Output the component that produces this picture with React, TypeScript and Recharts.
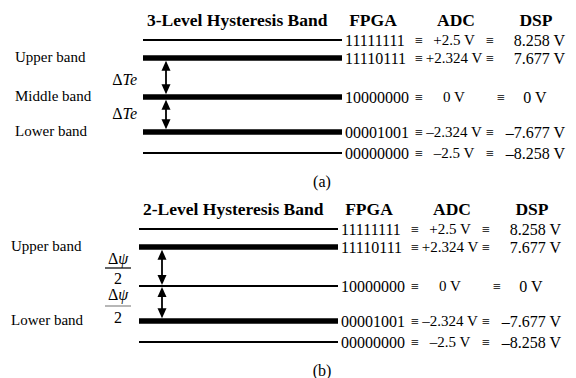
import React from 'react';
import { ComposedChart, XAxis, YAxis, ReferenceLine, Scatter } from 'recharts';

// ---------- data ----------
const levelKeys = ['max', 'upper', 'middle', 'lower', 'min'];
const fpgaCodes = ['11111111', '11110111', '10000000', '00001001', '00000000'];
const adcValues = ['+2.5 V', '+2.324 V', '0 V', '\u20132.324 V', '\u20132.5 V'];
const dspValues = ['8.258 V', '7.677 V', '0 V', '\u20137.677 V', '\u20138.258 V'];
// schematic level heights (diagram units, measured top-down)
const levelPos = [40, 58, 97, 132, 153];
const bandLabels3 = ['', 'Upper band', 'Middle band', 'Lower band', ''];
const bandLabels2 = ['', 'Upper band', '', 'Lower band', ''];
const thick3 = [false, true, true, true, false];
const thick2 = [false, true, false, true, false];
const columnHeaders = ['FPGA', 'ADC', 'DSP'];
const panelTitles = ['3-Level Hysteresis Band', '2-Level Hysteresis Band'];
const panelTags = ['(a)', '(b)'];

// ---------- layout ----------
const W = 576;
const H = 378;
const PANEL_DY = 189;
const FONT = '"Liberation Serif", "Times New Roman", Times, serif';

type TextItem = {
  x: number;
  y: number;
  content: React.ReactNode;
  anchor: 'start' | 'middle' | 'end';
  size: number;
  bold?: boolean;
  center?: boolean;
};

const TextShape = (props: any) => {
  const { cx, cy, payload } = props;
  const p = payload as TextItem;
  return (
    <text
      x={cx}
      y={cy}
      dy={p.center ? '0.35em' : 0}
      textAnchor={p.anchor}
      fontSize={p.size}
      fontWeight={p.bold ? 'bold' : 'normal'}
      fontFamily={FONT}
      fill="#000"
    >
      {p.content}
    </text>
  );
};

const makeArrow = (insetTop: number, insetBottom: number) => (props: any) => {
  const { x1, y1, x2, y2 } = props;
  const x = (x1 + x2) / 2;
  const top = Math.min(y1, y2) + insetTop;
  const bot = Math.max(y1, y2) - insetBottom;
  const hw = 4.5;
  const hh = 10;
  return (
    <g>
      <line x1={x} y1={top + 2} x2={x} y2={bot - 2} stroke="#000" strokeWidth={1.8} />
      <polygon points={`${x},${top} ${x - hw},${top + hh} ${x + hw},${top + hh}`} fill="#000" />
      <polygon points={`${x},${bot} ${x - hw},${bot - hh} ${x + hw},${bot - hh}`} fill="#000" />
    </g>
  );
};

const THICK = 5.5;
const THIN = 1.8;

function buildPanel(idx: number) {
  const oy = idx * PANEL_DY;
  const sx = idx === 0 ? 0 : -4;
  const thick = idx === 0 ? thick3 : thick2;
  const labels = idx === 0 ? bandLabels3 : bandLabels2;
  const lineX0 = 143 + sx;
  const lineX1 = 342 + sx;
  const arrowX = 166 + sx;
  const els: React.ReactNode[] = [];
  const texts: TextItem[] = [];

  // level lines
  levelKeys.forEach((k, i) => {
    const y = levelPos[i] + oy;
    els.push(
      <ReferenceLine
        key={`l-${idx}-${k}`}
        segment={[{ x: lineX0, y }, { x: lineX1, y }]}
        stroke="#000"
        strokeWidth={thick[i] ? THICK : THIN}
        ifOverflow="visible"
      />
    );
    // row text
    const ty = y;
    const isZero = dspValues[i] === '0 V';
    texts.push({ x: lineX1 + 3, y: ty, content: fpgaCodes[i], anchor: 'start', size: 16, center: true });
    texts.push({ x: 419 + sx, y: ty, content: '\u2261', anchor: 'middle', size: 14, center: true });
    texts.push({ x: 454 + sx, y: ty, content: adcValues[i], anchor: 'middle', size: 15, center: true });
    texts.push({ x: (isZero ? 501 : 490) + sx, y: ty, content: '\u2261', anchor: 'middle', size: 14, center: true });
    texts.push({
      x: (isZero ? 535 : 565) + sx,
      y: ty,
      content: dspValues[i],
      anchor: isZero ? 'middle' : 'end',
      size: 16,
      center: true,
    });
    if (labels[i]) {
      texts.push({ x: 15 + sx, y: levelPos[i] + oy - 1, content: labels[i], anchor: 'start', size: 15, center: true });
    }
  });

  // arrows between bands
  const halfW = (b: boolean) => (b ? THICK / 2 : THIN / 2);
  els.push(
    <ReferenceLine
      key={`a1-${idx}`}
      segment={[{ x: arrowX, y: levelPos[1] + oy }, { x: arrowX, y: levelPos[2] + oy }]}
      ifOverflow="visible"
      shape={makeArrow(halfW(thick[1]), halfW(thick[2]))}
    />
  );
  els.push(
    <ReferenceLine
      key={`a2-${idx}`}
      segment={[{ x: arrowX, y: levelPos[2] + oy }, { x: arrowX, y: levelPos[3] + oy }]}
      ifOverflow="visible"
      shape={makeArrow(halfW(thick[2]), halfW(thick[3]))}
    />
  );

  // titles
  texts.push({ x: 147 + sx, y: 26 + oy, content: panelTitles[idx], anchor: 'start', size: 17.5, bold: true });
  const hx = [373, 456, 536];
  columnHeaders.forEach((h, j) => {
    texts.push({ x: hx[j] + sx, y: 26 + oy, content: h, anchor: 'middle', size: 17.5, bold: true });
  });
  texts.push({ x: 322, y: 188 + oy - 1, content: panelTags[idx], anchor: 'middle', size: 16 });

  // band-width annotations
  if (idx === 0) {
    const de = (
      <>
        <tspan>{'\u0394'}</tspan>
        <tspan fontStyle="italic">Te</tspan>
      </>
    );
    texts.push({ x: 137, y: 85, content: de, anchor: 'end', size: 16 });
    texts.push({ x: 137, y: 119, content: de, anchor: 'end', size: 16 });
  } else {
    const fx = 119 + sx + 3;
    const num = (
      <>
        <tspan>{'\u0394'}</tspan>
        <tspan fontStyle="italic">{'\u03C8'}</tspan>
      </>
    );
    texts.push({ x: fx, y: 75 + oy, content: num, anchor: 'middle', size: 16 });
    texts.push({ x: fx, y: 95 + oy, content: '2', anchor: 'middle', size: 16 });
    texts.push({ x: fx, y: 111 + oy, content: num, anchor: 'middle', size: 16 });
    texts.push({ x: fx, y: 134 + oy, content: '2', anchor: 'middle', size: 16 });
    els.push(
      <ReferenceLine
        key={`f1-${idx}`}
        segment={[{ x: fx - 13, y: 79 + oy }, { x: fx + 13, y: 79 + oy }]}
        stroke="#000"
        strokeWidth={1.2}
        ifOverflow="visible"
      />
    );
    els.push(
      <ReferenceLine
        key={`f2-${idx}`}
        segment={[{ x: fx - 13, y: 117 + oy }, { x: fx + 13, y: 117 + oy }]}
        stroke="#888"
        strokeWidth={1.2}
        ifOverflow="visible"
      />
    );
  }

  els.push(
    <Scatter
      key={`t-${idx}`}
      data={texts}
      dataKey="y"
      shape={TextShape}
      isAnimationActive={false}
    />
  );
  return els;
}

export default function App() {
  return (
    <div style={{ position: 'absolute', left: 0, top: 0, width: W, height: H, background: '#fff' }}>
      <ComposedChart width={W} height={H} margin={{ top: 0, right: 0, bottom: 0, left: 0 }}>
        <XAxis type="number" dataKey="x" domain={[0, W]} hide allowDataOverflow />
        <YAxis type="number" dataKey="y" domain={[0, H]} reversed hide allowDataOverflow />
        {buildPanel(0)}
        {buildPanel(1)}
      </ComposedChart>
    </div>
  );
}
